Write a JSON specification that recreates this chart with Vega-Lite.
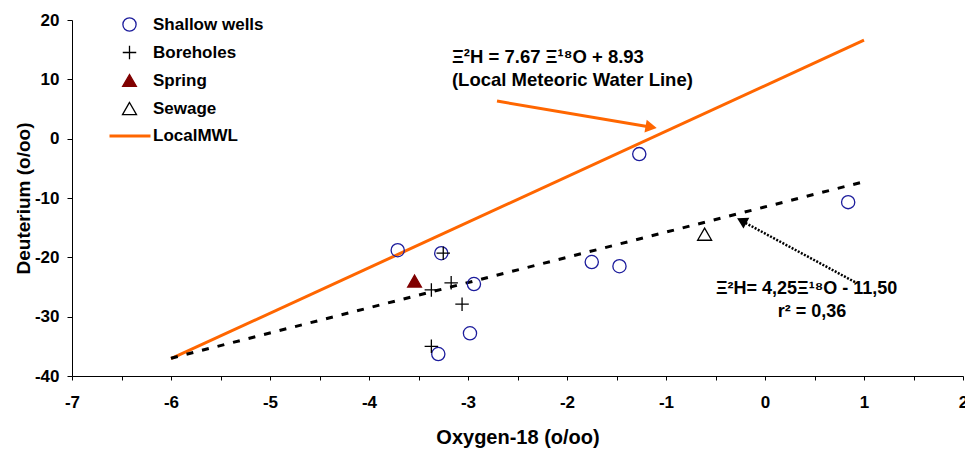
{
  "$schema": "https://vega.github.io/schema/vega-lite/v6.json",
  "width": 891,
  "height": 356,
  "autosize": {"type": "none"},
  "padding": {"left": 72, "top": 20, "right": 2, "bottom": 79},
  "background": "white",
  "config": {
    "view": {"stroke": null},
    "font": "Liberation Sans",
    "axis": {
      "grid": false,
      "domainColor": "black",
      "domainWidth": 1,
      "tickColor": "black",
      "labelFont": "Liberation Sans",
      "labelFontWeight": "bold",
      "labelFontSize": 17,
      "labelColor": "black",
      "titleFont": "Liberation Sans",
      "titleFontWeight": "bold",
      "titleFontSize": 19,
      "titleColor": "black",
      "labelOverlap": false,
      "labelFlush": false
    },
    "legend": {
      "labelFont": "Liberation Sans",
      "labelFontWeight": "bold",
      "labelFontSize": 17,
      "labelColor": "black",
      "padding": 0
    }
  },
  "datasets": {
    "points": [
      {"series": "Shallow wells", "o18": -3.71, "h2": -18.8},
      {"series": "Shallow wells", "o18": -3.27, "h2": -19.3},
      {"series": "Shallow wells", "o18": -2.94, "h2": -24.5},
      {"series": "Shallow wells", "o18": -2.98, "h2": -32.8},
      {"series": "Shallow wells", "o18": -3.30, "h2": -36.3},
      {"series": "Shallow wells", "o18": -1.75, "h2": -20.8},
      {"series": "Shallow wells", "o18": -1.47, "h2": -21.5},
      {"series": "Shallow wells", "o18": -1.27, "h2": -2.6},
      {"series": "Shallow wells", "o18": 0.84, "h2": -10.7},
      {"series": "Boreholes", "o18": -3.25, "h2": -19.3},
      {"series": "Boreholes", "o18": -3.37, "h2": -25.5},
      {"series": "Boreholes", "o18": -3.17, "h2": -24.3},
      {"series": "Boreholes", "o18": -3.06, "h2": -27.9},
      {"series": "Boreholes", "o18": -3.37, "h2": -35.0},
      {"series": "Spring", "o18": -3.54, "h2": -24.0},
      {"series": "Sewage", "o18": -0.61, "h2": -16.1}
    ],
    "lmwl": [
      {"series": "LocalMWL", "o18": -6, "h2": -37.09},
      {"series": "LocalMWL", "o18": 1, "h2": 16.6}
    ],
    "regression": [
      {"o18": -6, "h2": -37.0},
      {"o18": 1, "h2": -7.25}
    ],
    "arrowOrange": [
      {"xa": -2.707, "ya": 6.34, "xb": -1.16, "yb": 1.98}
    ],
    "arrowOrangeHead": [
      {"o18": -1.15, "h2": 1.96}
    ],
    "arrowBlack": [
      {"xa": 0.909, "ya": -24.18, "xb": -0.22, "yb": -14.0}
    ],
    "arrowBlackHead": [
      {"o18": -0.235, "h2": -13.82}
    ],
    "labelsLeft": [
      {"o18": -3.162, "h2": 13.76, "label": "Ξ²H = 7.67 Ξ¹⁸O + 8.93"},
      {"o18": -3.162, "h2": 9.88, "label": "(Local Meteoric Water Line)"}
    ],
    "labelsCenter": [
      {"o18": 0.42, "h2": -25.36, "label": "Ξ²H= 4,25Ξ¹⁸O - 11,50"},
      {"o18": 0.475, "h2": -29.24, "label": "r² = 0,36"}
    ]
  },
  "layer": [
    {
      "data": {"name": "lmwl"},
      "mark": {"type": "line", "strokeWidth": 3},
      "encoding": {
        "x": {
          "field": "o18", "type": "quantitative",
          "scale": {"domain": [-7, 2], "nice": false, "zero": false},
          "axis": {
            "values": [-7,-6.75,-6.5,-6.25,-6,-5.75,-5.5,-5.25,-5,-4.75,-4.5,-4.25,-4,-3.75,-3.5,-3.25,-3,-2.75,-2.5,-2.25,-2,-1.75,-1.5,-1.25,-1,-0.75,-0.5,-0.25,0,0.25,0.5,0.75,1,1.25,1.5,1.75,2],
            "labelExpr": "datum.value % 1 === 0 ? '' + datum.value : ''",
            "tickSize": 4,
            "labelPadding": 14,
            "title": "Oxygen-18 (o/oo)",
            "titleFontSize": 20,
            "titlePadding": 17
          }
        },
        "y": {
          "field": "h2", "type": "quantitative",
          "scale": {"domain": [-40, 20], "nice": false, "zero": false},
          "axis": {
            "values": [-40,-35,-30,-25,-20,-15,-10,-5,0,5,10,15,20],
            "labelExpr": "datum.value % 10 === 0 ? '' + datum.value : ''",
            "tickSize": 5,
            "labelPadding": 8,
            "title": "Deuterium (o/oo)",
            "titlePadding": 1
          }
        },
        "color": {
          "field": "series", "type": "nominal",
          "scale": {"domain": ["LocalMWL"], "range": ["#FF6600"]},
          "legend": {
            "orient": "none", "legendX": 36, "legendY": 94, "title": null,
            "symbolType": "stroke", "symbolSize": 1681, "symbolStrokeWidth": 3,
            "labelOffset": 1
          }
        }
      }
    },
    {
      "data": {"name": "regression"},
      "mark": {"type": "line", "stroke": "black", "strokeWidth": 3, "strokeDash": [7, 9]},
      "encoding": {
        "x": {"field": "o18", "type": "quantitative"},
        "y": {"field": "h2", "type": "quantitative"}
      }
    },
    {
      "data": {"name": "arrowOrange"},
      "mark": {"type": "rule", "stroke": "#FF6600", "strokeWidth": 3},
      "encoding": {
        "x": {"field": "xa", "type": "quantitative"},
        "y": {"field": "ya", "type": "quantitative"},
        "x2": {"field": "xb"},
        "y2": {"field": "yb"}
      }
    },
    {
      "data": {"name": "arrowOrangeHead"},
      "mark": {"type": "point", "shape": "triangle-right", "angle": 10, "filled": true, "fill": "#FF6600", "opacity": 1, "size": 170},
      "encoding": {
        "x": {"field": "o18", "type": "quantitative"},
        "y": {"field": "h2", "type": "quantitative"}
      }
    },
    {
      "data": {"name": "arrowBlack"},
      "mark": {"type": "rule", "stroke": "black", "strokeWidth": 2.5, "strokeDash": [2, 1.5]},
      "encoding": {
        "x": {"field": "xa", "type": "quantitative"},
        "y": {"field": "ya", "type": "quantitative"},
        "x2": {"field": "xb"},
        "y2": {"field": "yb"}
      }
    },
    {
      "data": {"name": "arrowBlackHead"},
      "mark": {"type": "point", "shape": "triangle-right", "angle": 208.5, "filled": true, "fill": "black", "opacity": 1, "size": 150},
      "encoding": {
        "x": {"field": "o18", "type": "quantitative"},
        "y": {"field": "h2", "type": "quantitative"}
      }
    },
    {
      "data": {"name": "points"},
      "mark": {"type": "point", "opacity": 1, "strokeWidth": 1.3},
      "encoding": {
        "x": {"field": "o18", "type": "quantitative"},
        "y": {"field": "h2", "type": "quantitative"},
        "shape": {
          "field": "series", "type": "nominal",
          "scale": {
            "domain": ["Shallow wells", "Boreholes", "Spring", "Sewage"],
            "range": ["circle", "M-1,0L1,0M0,-1L0,1", "triangle-up", "triangle-up"]
          },
          "legend": {
            "orient": "none", "legendX": 49, "legendY": -4, "title": null,
            "labelOffset": 15, "rowPadding": 9, "symbolStrokeWidth": 1.3
          }
        },
        "stroke": {
          "field": "series", "type": "nominal",
          "scale": {
            "domain": ["Shallow wells", "Boreholes", "Spring", "Sewage"],
            "range": ["#1C1C9C", "black", "#800000", "black"]
          },
          "legend": {
            "orient": "none", "legendX": 49, "legendY": -4, "title": null,
            "labelOffset": 15, "rowPadding": 9, "symbolStrokeWidth": 1.3
          }
        },
        "fill": {
          "field": "series", "type": "nominal",
          "scale": {
            "domain": ["Shallow wells", "Boreholes", "Spring", "Sewage"],
            "range": ["transparent", "transparent", "#800000", "transparent"]
          },
          "legend": {
            "orient": "none", "legendX": 49, "legendY": -4, "title": null,
            "labelOffset": 15, "rowPadding": 9, "symbolStrokeWidth": 1.3
          }
        },
        "size": {
          "field": "series", "type": "nominal",
          "scale": {
            "domain": ["Shallow wells", "Boreholes", "Spring", "Sewage"],
            "range": [175, 196, 225, 196]
          },
          "legend": {
            "orient": "none", "legendX": 49, "legendY": -4, "title": null,
            "labelOffset": 15, "rowPadding": 9, "symbolStrokeWidth": 1.3
          }
        }
      }
    },
    {
      "data": {"name": "labelsLeft"},
      "mark": {"type": "text", "align": "left", "baseline": "middle", "font": "Liberation Sans", "fontWeight": "bold", "fontSize": 18.5, "color": "black"},
      "encoding": {
        "x": {"field": "o18", "type": "quantitative"},
        "y": {"field": "h2", "type": "quantitative"},
        "text": {"field": "label", "type": "nominal"}
      }
    },
    {
      "data": {"name": "labelsCenter"},
      "mark": {"type": "text", "align": "center", "baseline": "middle", "font": "Liberation Sans", "fontWeight": "bold", "fontSize": 18, "color": "black"},
      "encoding": {
        "x": {"field": "o18", "type": "quantitative"},
        "y": {"field": "h2", "type": "quantitative"},
        "text": {"field": "label", "type": "nominal"}
      }
    }
  ]
}
